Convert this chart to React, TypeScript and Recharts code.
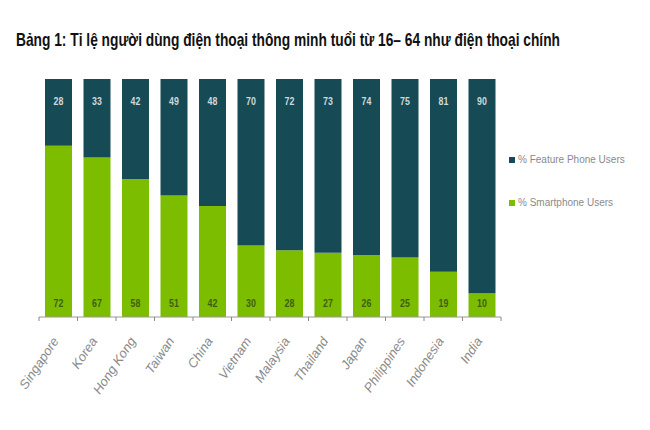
import React from "react";
import { BarChart, Bar, XAxis, LabelList } from "recharts";

const countries = ["Singapore", "Korea", "Hong Kong", "Taiwan", "China", "Vietnam", "Malaysia", "Thailand", "Japan", "Philippines", "Indonesia", "India"];
const featureUsers = [28, 33, 42, 49, 48, 70, 72, 73, 74, 75, 81, 90];
const smartphoneUsers = [72, 67, 58, 51, 42, 30, 28, 27, 26, 25, 19, 10];
const seriesNames = ["% Feature Phone Users", "% Smartphone Users"];
const title = "Bảng 1: Tỉ lệ người dùng điện thoại thông minh tuổi từ 16– 64 như điện thoại chính";

const data = countries.map((c, i) => ({ country: c, smart: smartphoneUsers[i], feature: featureUsers[i] }));

const W = 650, H = 430;
const M = { top: 79, left: 39, right: 149, bottom: 13 };
const BAND = (W - M.left - M.right) / countries.length;
const DARK = "#164a55";
const GREEN = "#7cbd00";
const SANS = "'Liberation Sans', Arial, sans-serif";

const Tick = (props: any) => {
  const { x, y, payload, index } = props;
  const left = x - BAND / 2;
  return (
    <g>
      <line x1={left} y1={y} x2={left} y2={y + 4} stroke="#888" />
      {index === countries.length - 1 && <line x1={x + BAND / 2} y1={y} x2={x + BAND / 2} y2={y + 4} stroke="#888" />}
      <text x={x + 1} y={y + 24} transform={`rotate(-56 ${x + 1} ${y + 24})`} textAnchor="end" fill="#8a8a8a" fontStyle="italic" fontSize={13} fontFamily={SANS}>
        {payload.value}
      </text>
    </g>
  );
};

const TopLabel = (props: any) => {
  const { x, y, width, value } = props;
  return (
    <text x={x + width / 2} y={y + 23} textAnchor="middle" dominantBaseline="middle" fill="#cfd9d9" fontSize={11} fontWeight="bold" fontFamily={SANS} transform={`translate(${x + width / 2} 0) scale(0.8 1) translate(${-(x + width / 2)} 0)`}>
      {value}
    </text>
  );
};

const BottomLabel = (props: any) => {
  const { x, y, width, height, value } = props;
  return (
    <text x={x + width / 2} y={y + height - 13} textAnchor="middle" dominantBaseline="middle" fill="#3f5f14" fontSize={11} fontWeight="bold" fontFamily={SANS} transform={`translate(${x + width / 2} 0) scale(0.8 1) translate(${-(x + width / 2)} 0)`}>
      {value}
    </text>
  );
};

export default function App() {
  return (
    <div style={{ position: "absolute", left: 0, top: 0, width: W, height: H, background: "#fff" }}>
      <svg style={{ position: "absolute", left: 0, top: 0 }} width={W} height={70}>
        <g transform="translate(0 46) scale(1 1.2) translate(0 -46)">
          <text x={16} y={46} fontFamily={SANS} fontWeight="bold" fontSize={15} fill="#111" textLength={544} lengthAdjust="spacingAndGlyphs">
            {title}
          </text>
        </g>
      </svg>
      <div style={{ position: "absolute", left: 509, top: 153, fontFamily: SANS, fontSize: 10, color: "#8a8a8a", lineHeight: "14px" }}>
        <div style={{ display: "flex", alignItems: "center" }}>
          <span style={{ width: 6, height: 6, background: DARK, display: "inline-block", marginRight: 3 }} />{seriesNames[0]}
        </div>
        <div style={{ display: "flex", alignItems: "center", marginTop: 29 }}>
          <span style={{ width: 6, height: 6, background: GREEN, display: "inline-block", marginRight: 3 }} />{seriesNames[1]}
        </div>
      </div>
      <div style={{ position: "absolute", left: 0, top: 0 }}>
        <BarChart width={W} height={H} data={data} margin={M} stackOffset="expand" barSize={27}>
          <XAxis dataKey="country" height={100} tickSize={0} tickMargin={0} interval={0} tick={<Tick />} axisLine={{ stroke: "#999" }} tickLine={false} />
          <Bar dataKey="smart" stackId="a" fill={GREEN} isAnimationActive={false}>
            <LabelList dataKey="smart" content={<BottomLabel />} />
          </Bar>
          <Bar dataKey="feature" stackId="a" fill={DARK} isAnimationActive={false}>
            <LabelList dataKey="feature" content={<TopLabel />} />
          </Bar>
        </BarChart>
      </div>
    </div>
  );
}
